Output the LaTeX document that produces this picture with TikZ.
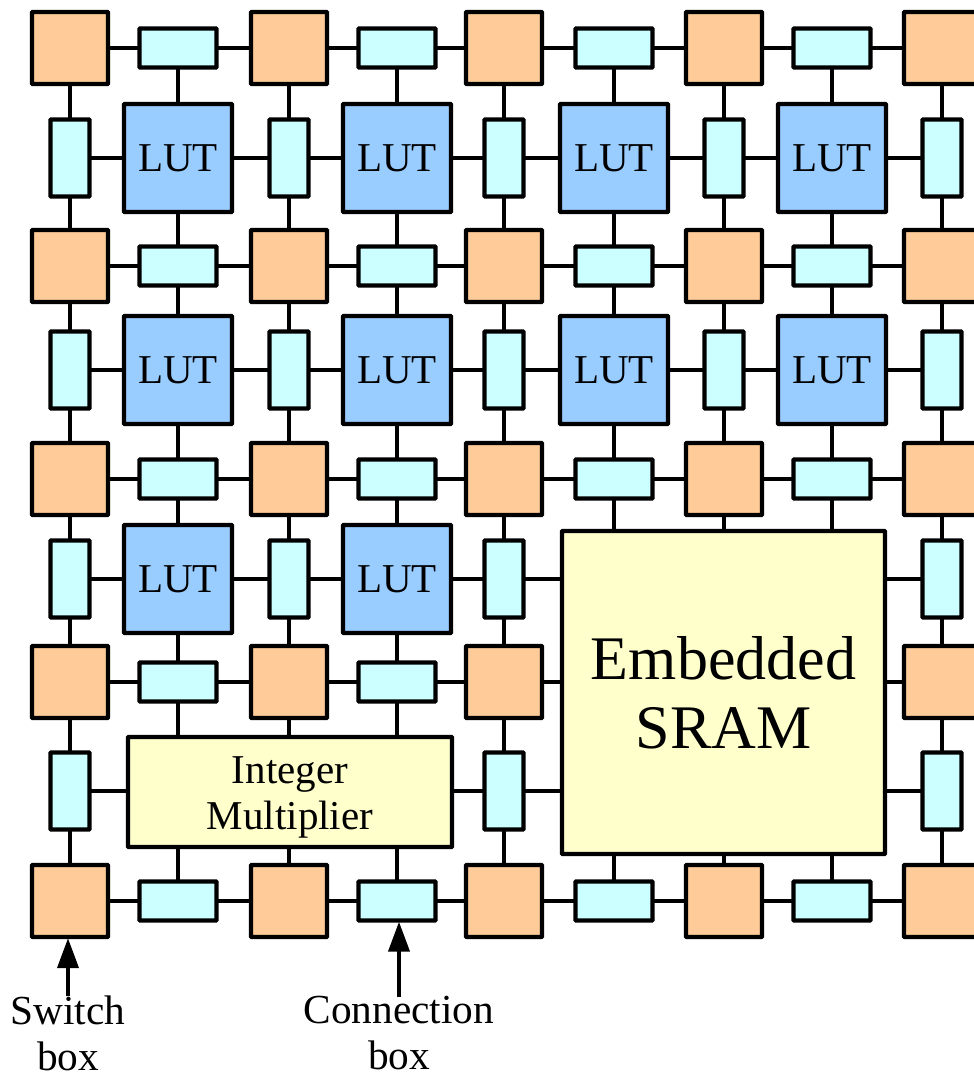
\documentclass[tikz,border=0pt]{standalone}
\usepackage{fontspec}
\setmainfont{Liberation Serif}
\usetikzlibrary{arrows.meta}

\definecolor{swcolor}{HTML}{FFCC99}
\definecolor{cbcolor}{HTML}{CCFFFF}
\definecolor{lutcolor}{HTML}{99CCFF}
\definecolor{blockcolor}{HTML}{FFFFCC}

\tikzset{
  plainbox/.style={draw, line width=4.3pt, inner sep=0pt, rounded corners=.6pt},
  swbox/.style={plainbox, fill=swcolor, minimum width=76pt, minimum height=72pt},
  hcbox/.style={plainbox, fill=cbcolor, minimum width=77pt, minimum height=39pt},
  vcbox/.style={plainbox, fill=cbcolor, minimum width=39pt, minimum height=77pt},
  lutbox/.style={plainbox, fill=lutcolor, minimum width=108pt, minimum height=108pt,
    font=\fontsize{41}{46}\selectfont},
  blockbox/.style={plainbox, fill=blockcolor, align=center},
  caption/.style={align=center, inner sep=0pt, font=\fontsize{41.3}{46}\selectfont},
  pointer/.style={line width=4pt, -{Triangle[length=30pt,width=21pt]}, shorten >=-1pt, shorten <=-1pt}
}

\begin{document}
\begin{tikzpicture}[x=1pt,y=-1pt]

      \useasboundingbox (0,0) rectangle (974,1077);

      \begin{scope}[every node/.style={swbox}]
        \node (s11) at (70,48)  {};
        \node (s12) at (289,48)  {};
        \node (s13) at (504,48)  {};
        \node (s14) at (724,48)  {};
        \node (s15) at (942,48)  {};
        \node (s21) at (70,266)  {};
        \node (s22) at (289,266)  {};
        \node (s23) at (504,266)  {};
        \node (s24) at (724,266)  {};
        \node (s25) at (942,266)  {};
        \node (s31) at (70,479)  {};
        \node (s32) at (289,479)  {};
        \node (s33) at (504,479)  {};
        \node (s34) at (724,479)  {};
        \node (s35) at (942,479)  {};
        \node (s41) at (70,682)  {};
        \node (s42) at (289,682)  {};
        \node (s43) at (504,682)  {};
        \node (s45) at (942,682)  {};
        \node (s51) at (70,901)  {};
        \node (s52) at (289,901)  {};
        \node (s53) at (504,901)  {};
        \node (s54) at (724,901)  {};
        \node (s55) at (942,901)  {};
      \end{scope}

      \begin{scope}[every node/.style={hcbox}]
        \node (h11) at (178,48)  {};
        \node (h12) at (397,48)  {};
        \node (h13) at (614,48)  {};
        \node (h14) at (832,48)  {};
        \node (h21) at (178,266)  {};
        \node (h22) at (397,266)  {};
        \node (h23) at (614,266)  {};
        \node (h24) at (832,266)  {};
        \node (h31) at (178,479)  {};
        \node (h32) at (397,479)  {};
        \node (h33) at (614,479)  {};
        \node (h34) at (832,479)  {};
        \node (h41) at (178,682)  {};
        \node (h42) at (397,682)  {};
        \node (h51) at (178,901)  {};
        \node (h52) at (397,901)  {};
        \node (h53) at (614,901)  {};
        \node (h54) at (832,901)  {};
      \end{scope}

      \begin{scope}[every node/.style={vcbox}]
        \node (v11) at (70,158)  {};
        \node (v12) at (289,158)  {};
        \node (v13) at (504,158)  {};
        \node (v14) at (724,158)  {};
        \node (v15) at (942,158)  {};
        \node (v21) at (70,370)  {};
        \node (v22) at (289,370)  {};
        \node (v23) at (504,370)  {};
        \node (v24) at (724,370)  {};
        \node (v25) at (942,370)  {};
        \node (v31) at (70,579)  {};
        \node (v32) at (289,579)  {};
        \node (v33) at (504,579)  {};
        \node (v35) at (942,579)  {};
        \node (v41) at (70,791)  {};
        \node (v43) at (504,791)  {};
        \node (v45) at (942,791)  {};
      \end{scope}

      \begin{scope}[every node/.style={lutbox}]
        \node (l11) at (178,158)  {LUT};
        \node (l12) at (397,158)  {LUT};
        \node (l13) at (614,158)  {LUT};
        \node (l14) at (832,158)  {LUT};
        \node (l21) at (178,370)  {LUT};
        \node (l22) at (397,370)  {LUT};
        \node (l23) at (614,370)  {LUT};
        \node (l24) at (832,370)  {LUT};
        \node (l31) at (178,579)  {LUT};
        \node (l32) at (397,579)  {LUT};
      \end{scope}

      \node[blockbox, minimum width=324pt, minimum height=110pt,
        font=\fontsize{41}{46}\selectfont] (mult) at (290,792) {\rule{0pt}{38pt}Integer\\Multiplier};
      \node[blockbox, minimum width=323pt, minimum height=323pt,
        font=\fontsize{62}{69}\selectfont] (sram) at (723.5,692.5) {Embedded\\SRAM};

      \node[caption] (swlabel) at (68,1033) {Switch\\box};
      \node[caption] (cblabel) at (399,1033) {Connection\\box};

      \begin{scope}[every edge/.style={draw, line width=3.5pt, shorten <=-2pt, shorten >=-2pt}]
        % horizontal connection boxes
        \path (h11) edge (s11) edge (s12) edge (l11);
        \path (h12) edge (s12) edge (s13) edge (l12);
        \path (h13) edge (s13) edge (s14) edge (l13);
        \path (h14) edge (s14) edge (s15) edge (l14);
        \path (h21) edge (s21) edge (s22) edge (l11) edge (l21);
        \path (h22) edge (s22) edge (s23) edge (l12) edge (l22);
        \path (h23) edge (s23) edge (s24) edge (l13) edge (l23);
        \path (h24) edge (s24) edge (s25) edge (l14) edge (l24);
        \path (h31) edge (s31) edge (s32) edge (l21) edge (l31);
        \path (h32) edge (s32) edge (s33) edge (l22) edge (l32);
        \path (h33) edge (s33) edge (s34) edge (l23) edge (h33 |- sram.north);
        \path (h34) edge (s34) edge (s35) edge (l24) edge (h34 |- sram.north);
        \path (h41) edge (s41) edge (s42) edge (l31) edge (h41 |- mult.north);
        \path (h42) edge (s42) edge (s43) edge (l32) edge (h42 |- mult.north);
        \path (h51) edge (s51) edge (s52) edge (h51 |- mult.south);
        \path (h52) edge (s52) edge (s53) edge (h52 |- mult.south);
        \path (h53) edge (s53) edge (s54) edge (h53 |- sram.south);
        \path (h54) edge (s54) edge (s55) edge (h54 |- sram.south);
        % vertical connection boxes
        \path (v11) edge (s11) edge (s21) edge (l11);
        \path (v12) edge (s12) edge (s22) edge (l11) edge (l12);
        \path (v13) edge (s13) edge (s23) edge (l12) edge (l13);
        \path (v14) edge (s14) edge (s24) edge (l13) edge (l14);
        \path (v15) edge (s15) edge (s25) edge (l14);
        \path (v21) edge (s21) edge (s31) edge (l21);
        \path (v22) edge (s22) edge (s32) edge (l21) edge (l22);
        \path (v23) edge (s23) edge (s33) edge (l22) edge (l23);
        \path (v24) edge (s24) edge (s34) edge (l23) edge (l24);
        \path (v25) edge (s25) edge (s35) edge (l24);
        \path (v31) edge (s31) edge (s41) edge (l31);
        \path (v32) edge (s32) edge (s42) edge (l31) edge (l32);
        \path (v33) edge (s33) edge (s43) edge (l32) edge (v33 -| sram.west);
        \path (v35) edge (s35) edge (s45) edge (v35 -| sram.east);
        \path (v41) edge (s41) edge (s51) edge (v41 -| mult.west);
        \path (v43) edge (s43) edge (s53) edge (v43 -| mult.east) edge (v43 -| sram.west);
        \path (v45) edge (s45) edge (s55) edge (v45 -| sram.east);
        % switch boxes that touch a block
        \path (s42) edge (s42 |- mult.north);
        \path (s52) edge (s52 |- mult.south);
        \path (s34) edge (s34 |- sram.north);
        \path (s54) edge (s54 |- sram.south);
        \path (s43) edge (s43 -| sram.west);
        \path (s45) edge (s45 -| sram.east);
      \end{scope}

      \draw[pointer] (swlabel) -- (swlabel |- s51.south);
      \draw[pointer] (cblabel) -- (cblabel |- h52.south);

    \end{tikzpicture}
\end{document}
